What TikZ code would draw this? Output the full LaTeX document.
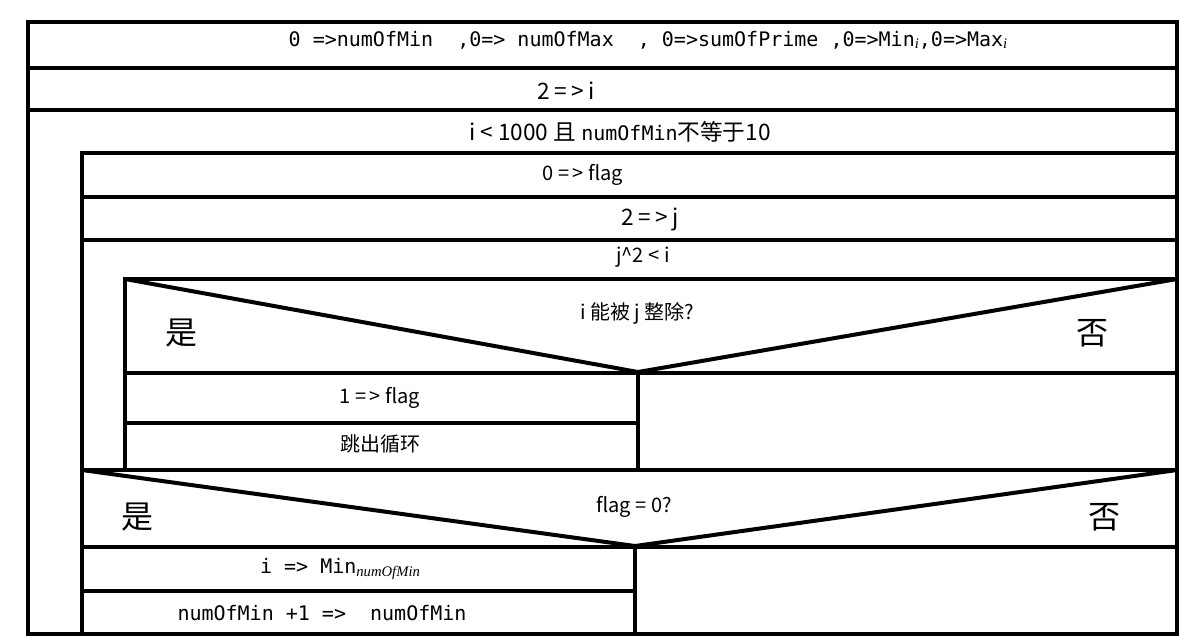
\documentclass[tikz,border=0pt]{standalone}
\usepackage{fontspec}
\setmainfont{Noto Sans CJK SC}
\newfontfamily\codefont{DejaVu Sans Mono}
\newfontfamily\subfont{Liberation Serif}
\newcommand{\sbs}[1]{\raisebox{-2pt}{\subfont\itshape\fontsize{11}{12}\selectfont #1}}
\begin{document}
\begin{tikzpicture}[x=0.75pt,y=-0.75pt,line width=3pt,
	code/.style={font=\codefont\fontsize{15}{18}\selectfont},
	txt/.style={font=\fontsize{15}{18}\selectfont},
	big/.style={font=\fontsize{24}{28}\selectfont}]
	\useasboundingbox (0,0) rectangle (1182,637);
	\draw (28,22) rectangle (1177,634);
	\draw (28,68) -- (1177,68);
	\draw (28,110) -- (1177,110);
	\draw (82,634) -- (82,153) -- (1177,153);
	\draw (82,197) -- (1177,197);
	\draw (82,240) -- (1177,240);
	\draw (125,470) -- (125,279) -- (1177,279);
	\draw (125,279) -- (638,372) -- (1177,279);
	\draw (125,373) -- (1177,373);
	\draw (638,373) -- (638,470);
	\draw (125,423) -- (638,423);
	\draw (82,470) -- (1177,470);
	\draw (82,470) -- (635,546) -- (1177,470);
	\draw (82,547) -- (1177,547);
	\draw (635,547) -- (635,634);
	\draw (82,591) -- (635,591);
	\node (In) at (648,40) [code] {0~=>numOfMin~~,0=> numOfMax~~, 0=>sumOfPrime ,0=>Min\sbs{i},0=>Max\sbs{i}};
	\node (Si) at (566,91) [txt,font=\fontsize{17}{20}\selectfont] {2 =\,> i};
	\node (Lo) at (620,132) [txt,font=\fontsize{17}{20}\selectfont] {i < 1000 且 {\codefont\fontsize{15}{18}\selectfont numOfMin}不等于10};
	\node (Fl) at (583,175) [txt] {0 =\,> flag};
	\node (Sj) at (650,219) [txt,font=\fontsize{17}{20}\selectfont] {2 =\,> j};
	\node (Lj) at (643,257) [txt] {j\^{}2 < i};
	\node (Dj) at (637,313) [txt] {i 能被 j 整除?};
	\node (Y1) at (181,333) [big] {是};
	\node (N1) at (1092,333) [big] {否};
	\node (Sf) at (380,398) [txt] {1 =\,> flag};
	\node (Br) at (380,444) [txt] {跳出循环};
	\node (Df) at (634,507) [txt] {flag = 0?};
	\node (Y2) at (137,517) [big] {是};
	\node (N2) at (1104,517) [big] {否};
	\node (Mi) at (340,569) [code] {i => Min\sbs{numOfMin}};
	\node (Ad) at (322,613) [code] {numOfMin +1 =>~ numOfMin};
\end{tikzpicture}
\end{document}
